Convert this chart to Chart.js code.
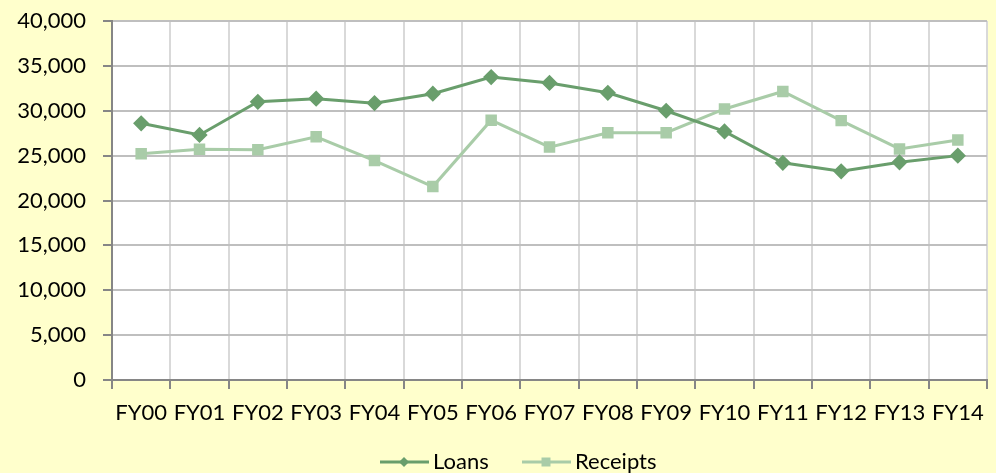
<!DOCTYPE html>
<html>
<head>
<meta charset="utf-8">
<script src="https://cdn.jsdelivr.net/npm/chart.js@4/dist/chart.umd.min.js"></script>
<style>
  html, body { margin: 0; padding: 0; background: #FFFFCC; }
  #wrap { width: 996px; height: 473px; }
</style>
</head>
<body>
<div id="wrap"><canvas id="line-area" width="996" height="473"></canvas></div>
<script>
var years = ['FY00', 'FY01', 'FY02', 'FY03', 'FY04', 'FY05', 'FY06', 'FY07', 'FY08', 'FY09', 'FY10', 'FY11', 'FY12', 'FY13', 'FY14'];
var loans = [28600, 27300, 31000, 31350, 30850, 31900, 33750, 33100, 32000, 30000, 27700, 24200, 23250, 24250, 25000];
var receipts = [25200, 25700, 25650, 27100, 24450, 21550, 28950, 25950, 27550, 27550, 30200, 32150, 28900, 25750, 26750];

var FONT = 'Lato, "Open Sans", sans-serif';

// white plot area
var plotBg = {
	id: 'plotBg',
	beforeDraw: function(chart) {
		var a = chart.chartArea, ctx = chart.ctx;
		ctx.save();
		ctx.fillStyle = '#ffffff';
		ctx.fillRect(a.left, a.top, a.right - a.left, a.bottom - a.top);
		ctx.restore();
	}
};

// excel style legend: line + marker + text
var lineLegend = {
	id: 'lineLegend',
	afterDraw: function(chart) {
		var ctx = chart.ctx;
		var y = 462;
		var xs = [380, 522];
		ctx.save();
		ctx.font = '22px ' + FONT;
		ctx.textBaseline = 'middle';
		chart.data.datasets.forEach(function(ds, i) {
			var x = xs[i];
			ctx.strokeStyle = ds.borderColor;
			ctx.lineWidth = 3;
			ctx.beginPath();
			ctx.moveTo(x, y);
			ctx.lineTo(x + 49, y);
			ctx.stroke();
			ctx.fillStyle = ds.pointBackgroundColor;
			var cx = x + 24;
			ctx.beginPath();
			if (ds.pointStyle == 'rectRot') {
				ctx.moveTo(cx, y - 5);
				ctx.lineTo(cx + 5, y);
				ctx.lineTo(cx, y + 5);
				ctx.lineTo(cx - 5, y);
			} else {
				ctx.rect(cx - 4.5, y - 4.5, 9, 9);
			}
			ctx.closePath();
			ctx.fill();
			ctx.fillStyle = '#000000';
			ctx.fillText(ds.label, x + 53, y);
		});
		ctx.restore();
	}
};

var config_line = {
	type: 'line',
	data: {
		labels: years,
		datasets: [{
			label: 'Loans',
			data: loans,
			borderColor: '#699E6C',
			backgroundColor: '#699E6C',
			pointBackgroundColor: '#699E6C',
			pointBorderColor: '#699E6C',
			borderWidth: 3,
			pointStyle: 'rectRot',
			pointRadius: 6,
			pointHoverRadius: 6,
			tension: 0
		}, {
			label: 'Receipts',
			data: receipts,
			borderColor: '#A9CCA8',
			backgroundColor: '#A9CCA8',
			pointBackgroundColor: '#A9CCA8',
			pointBorderColor: '#A9CCA8',
			borderWidth: 3,
			pointStyle: 'rect',
			pointRadius: 6,
			pointHoverRadius: 6,
			tension: 0
		}]
	},
	options: {
		responsive: false,
		animation: false,
		layout: { padding: { top: 21, right: 1, left: 0, bottom: 0 } },
		plugins: {
			legend: { display: false },
			tooltip: { enabled: false }
		},
		scales: {
			x: {
				offset: true,
				grid: {
					offset: true,
					color: '#D9D9D9',
					tickColor: '#868686',
					tickLength: 9,
					lineWidth: 2
				},
				border: { color: '#868686', width: 2 },
				ticks: {
					color: '#000000',
					font: { family: FONT, size: 22 },
					padding: 11,
					maxRotation: 0,
					autoSkip: false
				},
				afterFit: function(scale) {
					scale.height = 93;
					scale.paddingLeft = 0;
					scale.paddingRight = 0;
				}
			},
			y: {
				min: 0,
				max: 40000,
				grid: {
					color: '#BFBFBF',
					tickColor: '#868686',
					tickLength: 9,
					lineWidth: 2
				},
				border: { color: '#868686', width: 2 },
				ticks: {
					stepSize: 5000,
					color: '#000000',
					font: { family: FONT, size: 22 },
					padding: 17,
					callback: function(v) { return v.toLocaleString('en-US'); }
				},
				afterFit: function(scale) {
					scale.width = 112;
					scale.paddingTop = 0;
					scale.paddingBottom = 0;
				}
			}
		}
	},
	plugins: [plotBg, lineLegend]
};

window.onload = function() {
	var ctx = document.getElementById('line-area').getContext('2d');
	window.myLine = new Chart(ctx, config_line);
};
</script>
</body>
</html>
